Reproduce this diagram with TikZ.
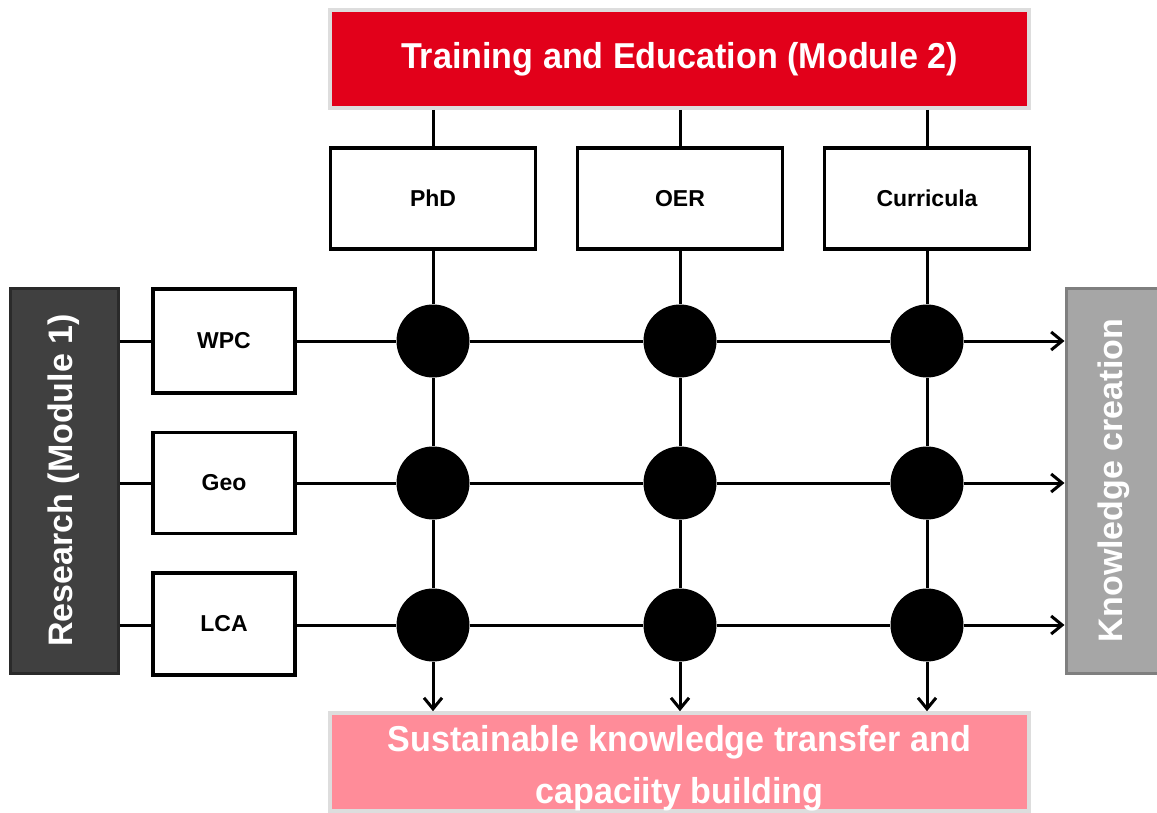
\documentclass[tikz,border=0pt]{standalone}
\usepackage{fontspec}
\setmainfont{Liberation Sans}
\usetikzlibrary{arrows.meta}
\definecolor{tered}{HTML}{E2001A}
\definecolor{tepink}{HTML}{FF8C99}
\definecolor{teframe}{HTML}{DDDDDD}
\definecolor{resfill}{HTML}{404040}
\definecolor{resframe}{HTML}{2A2A2A}
\definecolor{knfill}{HTML}{A6A6A6}
\definecolor{knframe}{HTML}{7F7F7F}
\newcommand\fitw[2]{\resizebox{#1}{\height}{#2}}
\begin{document}
\begin{tikzpicture}[x=1pt,y=-1pt,
  bigbox/.style={draw=teframe, line width=4pt, inner sep=0pt, text=white, font=\fontsize{36}{47}\selectfont\bfseries, align=center},
  sidebox/.style={line width=3pt, inner sep=0pt, minimum width=#1, text=white, font=\fontsize{34}{40}\selectfont\bfseries},
  smallbox/.style={draw=black, fill=white, line width=3.5pt, inner sep=0pt, font=\fontsize{23}{26}\selectfont\bfseries},
  dot/.style={circle, fill=black, draw=none, minimum size=73pt, inner sep=0pt},
  conn/.style={line width=3pt, draw=black},
  arr/.style={conn, -{Straight Barb[length=11pt,width=18pt,line width=3pt]}}
]
\useasboundingbox (0,0) rectangle (1157,813);

% top and bottom boxes
\node[bigbox, fill=tered, minimum width=699pt, minimum height=98pt] (train) at (679.5,59) {\fitw{557pt}{Training and Education (Module 2)}};
\node[bigbox, fill=tepink, minimum width=699pt, minimum height=96pt] (sus) at (679.5,762) {\rule{0pt}{38pt}\fitw{583pt}{Sustainable knowledge transfer and}\\[5pt]\fitw{288pt}{capaciity building}};

% side boxes
\node[sidebox=108pt, draw=resframe, fill=resfill, minimum height=385pt] (res) at (64,480.5) {\rotatebox{90}{Research (Module 1)}};
\node[sidebox=96pt, draw=knframe, fill=knfill, minimum height=385pt] (know) at (1114,480.5) {\rotatebox{90}{Knowledge creation}};

% column boxes
\node[smallbox, minimum width=205pt, minimum height=101pt] (phd) at (433,198.5) {PhD};
\node[smallbox, minimum width=205pt, minimum height=101pt] (oer) at (680,198.5) {OER};
\node[smallbox, minimum width=205pt, minimum height=101pt] (cur) at (927,198.5) {Curricula};

% row boxes
\node[smallbox, minimum width=142pt, minimum height=104pt] (wpc) at (224,341) {WPC};
\node[smallbox, minimum width=142pt, minimum height=101pt] (geo) at (224,483) {Geo};
\node[smallbox, minimum width=142pt, minimum height=102pt] (lca) at (224,624) {LCA};

% dots
\foreach \c/\x in {1/433,2/680,3/927}{
  \foreach \r/\y in {1/341,2/483,3/625}{
    \node[dot] (d\r\c) at (\x,\y) {};
  }
}

% vertical connectors
\draw[conn] (train.south -| phd) -- (phd.north);
\draw[conn] (train.south -| oer) -- (oer.north);
\draw[conn] (train.south -| cur) -- (cur.north);
\draw[conn] (phd) -- (d11) -- (d21) -- (d31);
\draw[conn] (oer) -- (d12) -- (d22) -- (d32);
\draw[conn] (cur) -- (d13) -- (d23) -- (d33);
\draw[arr] (d31) -- (d31 |- sus.north);
\draw[arr] (d32) -- (d32 |- sus.north);
\draw[arr] (d33) -- (d33 |- sus.north);

% horizontal connectors
\draw[conn] (res.east |- d11) -- (wpc.west |- d11);
\draw[conn] (res.east |- d21) -- (geo.west |- d21);
\draw[conn] (res.east |- d31) -- (lca.west |- d31);
\draw[conn] (wpc.east |- d11) -- (d11) -- (d12) -- (d13);
\draw[conn] (geo.east |- d21) -- (d21) -- (d22) -- (d23);
\draw[conn] (lca.east |- d31) -- (d31) -- (d32) -- (d33);
\draw[arr] (d13) -- (d13 -| know.west);
\draw[arr] (d23) -- (d23 -| know.west);
\draw[arr] (d33) -- (d33 -| know.west);
\end{tikzpicture}
\end{document}
